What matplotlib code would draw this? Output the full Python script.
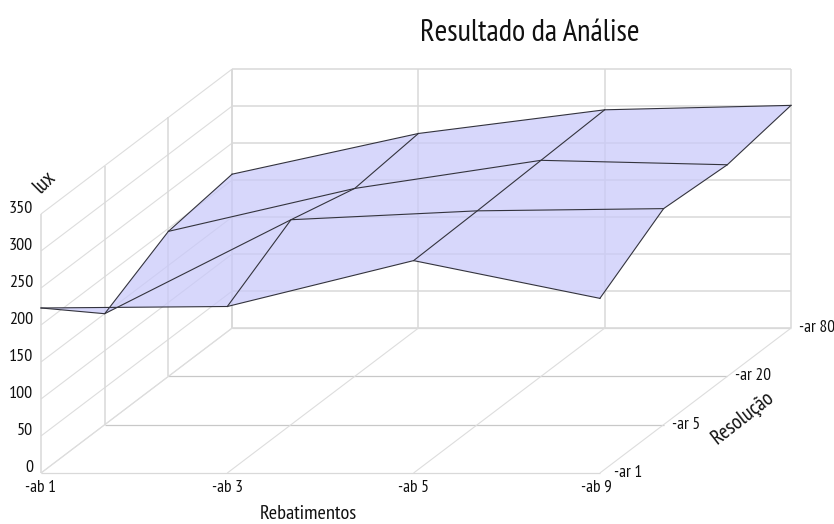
import matplotlib
matplotlib.use("Agg")
import matplotlib.pyplot as plt
import numpy as np

plt.rcParams['font.family'] = ['PT Sans Narrow', 'Open Sans Condensed', 'Liberation Sans Narrow', 'Liberation Sans', 'DejaVu Sans']

ab_labels = ['-ab 1', '-ab 3', '-ab 5', '-ab 9']
ar_labels = ['-ar 1', '-ar 5', '-ar 20', '-ar 80']
lux_ticks = [0, 50, 100, 150, 200, 250, 300, 350]

# one row per -ar value, one column per -ab value
lux = np.array([
    [223, 225, 287, 236],
    [150, 277, 289, 292],
    [196, 254, 292, 286],
    [208, 263, 295, 301],
])

GRID = '#d9d9d9'
FILL = '#c8c8fa'
EDGE = '#33333d'
TEXT = '#111111'


# oblique projection of the chart box, result in image pixels
def proj(i, j, z):
    return 41 + 186.3 * i + 63.7 * j, 473 - 48.3 * j - 0.74 * z


fig = plt.figure(figsize=(8.34, 5.24), dpi=100)
ax = fig.add_axes([0, 0, 1, 1])
ax.set_xlim(0, 834)
ax.set_ylim(524, 0)
ax.axis('off')

n_ab, n_ar = len(ab_labels), len(ar_labels)
top = lux_ticks[-1]


def seg(a, b, **kw):
    ax.plot([a[0], b[0]], [a[1], b[1]], solid_capstyle='butt', **kw)


# walls and floor
for z in lux_ticks:
    seg(proj(0, 0, z), proj(0, n_ar - 1, z), color='#dddddd', lw=0.8, zorder=1)
    seg(proj(0, n_ar - 1, z), proj(n_ab - 1, n_ar - 1, z), color=GRID, lw=1.1, zorder=1)
for j in range(n_ar):
    seg(proj(0, j, 0), proj(0, j, top), color=GRID, lw=1.1, zorder=1)
    seg(proj(0, j, 0), proj(n_ab - 1, j, 0), color='#c8c8c8' if 0 < j < 3 else GRID, lw=0.9, zorder=1)
for i in range(n_ab):
    seg(proj(i, n_ar - 1, 0), proj(i, n_ar - 1, top), color=GRID, lw=1.1, zorder=1)
    seg(proj(i, 0, 0), proj(i, n_ar - 1, 0), color='#dddddd', lw=0.8, zorder=1)

# surface, back cells first
for j in range(n_ar - 2, -1, -1):
    for i in range(n_ab - 1):
        cell = [proj(i, j, lux[j, i]), proj(i + 1, j, lux[j, i + 1]),
                proj(i + 1, j + 1, lux[j + 1, i + 1]), proj(i, j + 1, lux[j + 1, i])]
        ax.add_patch(plt.Polygon(cell, closed=True, facecolor=FILL, alpha=0.72,
                                 edgecolor='none', zorder=2))
for j in range(n_ar):
    pts = [proj(i, j, lux[j, i]) for i in range(n_ab)]
    ax.plot(*zip(*pts), color=EDGE, lw=0.8, zorder=3)
for i in range(n_ab):
    pts = [proj(i, j, lux[j, i]) for j in range(n_ar)]
    ax.plot(*zip(*pts), color=EDGE, lw=0.8, zorder=3)

# tick labels
for z in lux_ticks:
    x, y = proj(0, 0, z)
    ax.text(x - 8, y - 5, str(z), ha='right', va='center', fontsize=13, color=TEXT)
for i, s in enumerate(ab_labels):
    x, y = proj(i, 0, 0)
    ax.text(x - (3 if i == n_ab - 1 else 0), y + 15, s, ha='center', va='center', fontsize=12.5, color=TEXT)
for j, s in enumerate(ar_labels):
    x, y = proj(n_ab - 1, j, 0)
    ax.text(x + (14 if j == 0 else 8), y, s, ha='left', va='center', fontsize=12.5, color=TEXT)

ax.text(530, 33, 'Resultado da Análise', ha='center', va='center', fontsize=22, color=TEXT)
ax.text(308, 514, 'Rebatimentos', ha='center', va='center', fontsize=14.7, color=TEXT)
ax.text(45, 182, 'lux', ha='center', va='center', fontsize=15, rotation=45, color=TEXT)
ax.text(743, 418, 'Resolução', ha='center', va='center', fontsize=15, rotation=38, color=TEXT)

fig.savefig('out.png', dpi=100)
